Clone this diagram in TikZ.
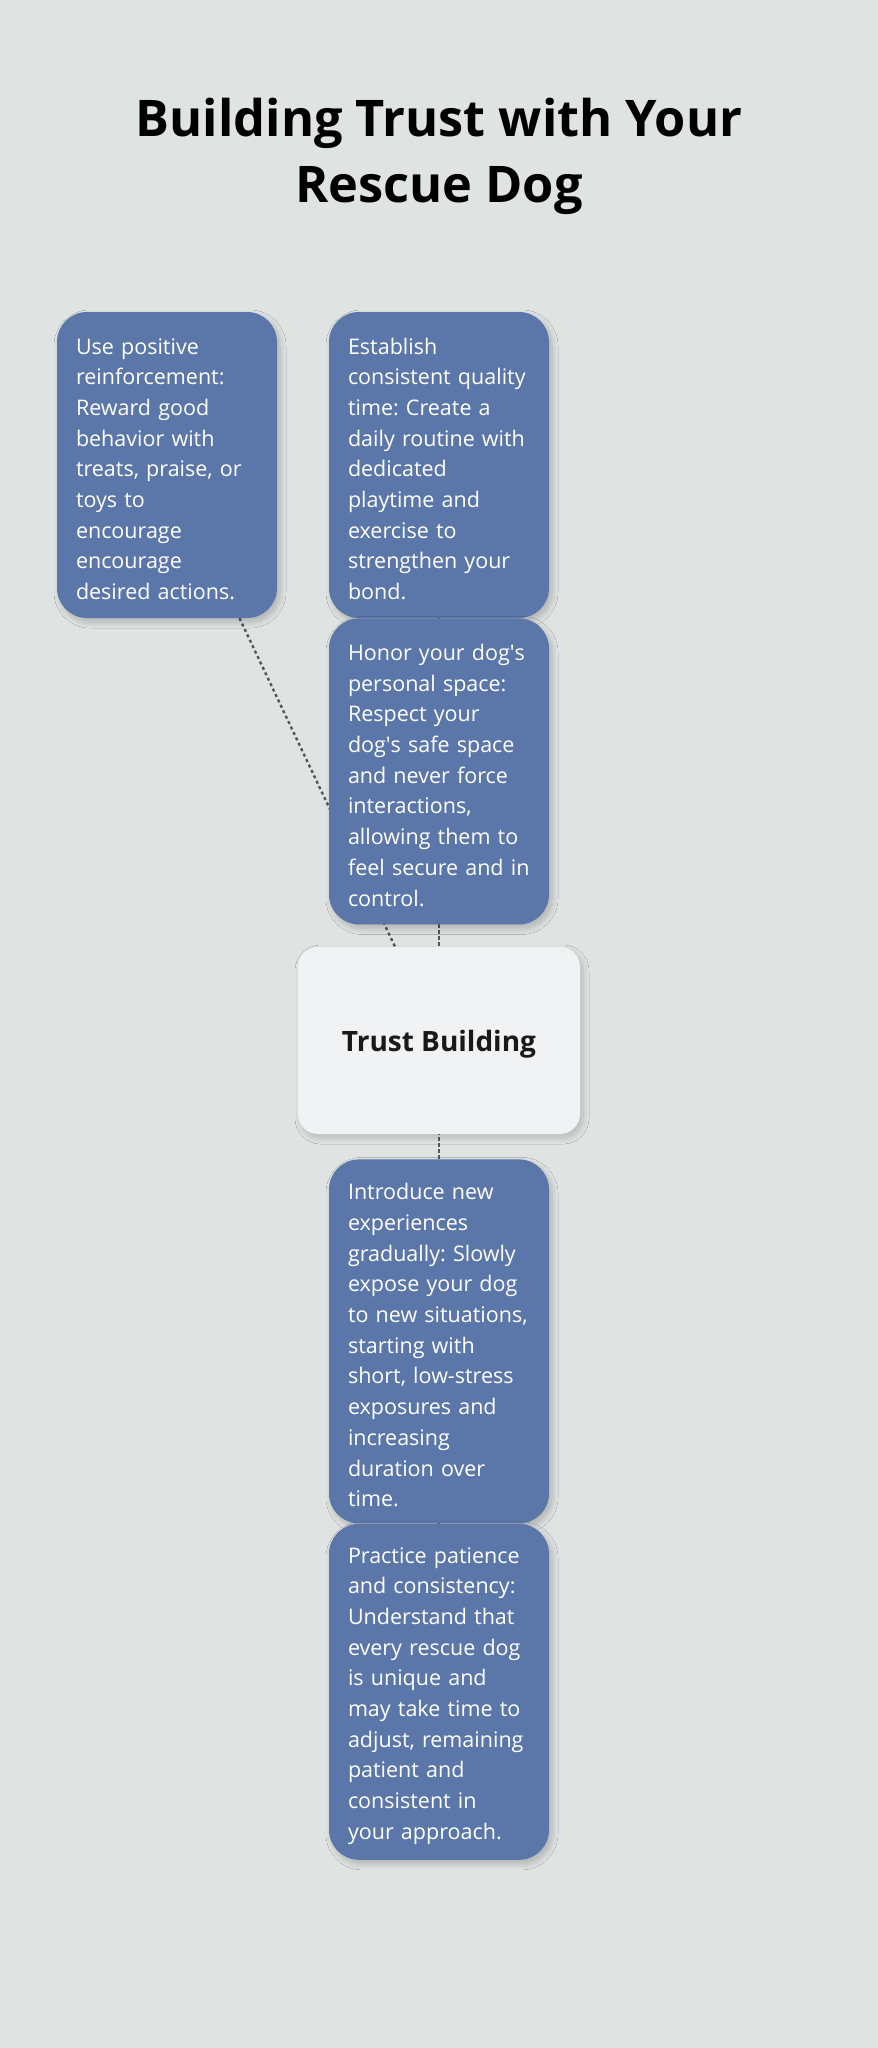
\documentclass[tikz,border=0pt]{standalone}
\usepackage{fontspec}
\setmainfont{Open Sans}
\usetikzlibrary{positioning}
\usetikzlibrary{backgrounds}
\usetikzlibrary{shadows.blur}

\definecolor{bgcol}{HTML}{DFE3E2}
\definecolor{tipcol}{HTML}{5B76A8}
\definecolor{hubcol}{HTML}{F1F2F4}
\definecolor{linkcol}{HTML}{50565C}

\begin{document}
\frenchspacing
\begin{tikzpicture}[x=1pt,y=-1pt]

\tikzset{
    tip/.style = {
    fill=tipcol, text=white, rounded corners=30pt,
    text width=182pt, inner xsep=19pt, inner ysep=0pt, align=left,
    font=\fontsize{21.5}{30.7}\selectfont,
    execute at begin node={\rule{0pt}{24pt}},
    blur shadow={shadow xshift=3pt, shadow yshift=-4pt, shadow blur radius=6pt, shadow blur steps=12, shadow opacity=22}
    },
    hub/.style = {
    fill=hubcol, text=black!90, rounded corners=20pt,
    minimum width=282pt, minimum height=187pt,
    text height=24pt, text depth=2pt,
    font=\fontsize{28}{34}\selectfont\bfseries,
    blur shadow={shadow xshift=3pt, shadow yshift=-4pt, shadow blur radius=6pt, shadow blur steps=12, shadow opacity=18}
    },
    link/.style = {linkcol, line width=2.4pt, dash pattern=on 3pt off 3pt}
}

\useasboundingbox (0,0) rectangle (878,2048);

\node (title) [align=center, font=\fontsize{50.5}{66}\selectfont\bfseries] at (439,156)
    {Building Trust with Your\\Rescue Dog};

\node (tip-reward) [tip, minimum height=306pt] at (167,465)
    {Use positive\\reinforcement:\\Reward good\\behavior with\\treats, praise, or\\toys to\\encourage\\encourage\\desired actions.};
\node (tip-quality) [tip, minimum height=306pt] at (439,465)
    {Establish\\consistent quality\\time: Create a\\daily routine with\\dedicated\\playtime and\\exercise to\\strengthen your\\bond.};
\node (tip-space) [tip, minimum height=306pt, below=0pt of tip-quality]
    {Honor your dog\textquotesingle s\\personal space:\\Respect your\\dog\textquotesingle s safe space\\and never force\\interactions,\\allowing them to\\feel secure and in\\control.};

\node (hub) [hub] at (439,1040.5) {Trust Building};

\node (tip-expose) [tip, minimum height=364pt, below=25pt of hub]
    {Introduce new\\experiences\\gradually: Slowly\\expose your dog\\to new situations,\\starting with\\short, low-stress\\exposures and\\increasing\\duration over\\time.};
\node (tip-patience) [tip, minimum height=336pt, below=0pt of tip-expose]
    {Practice patience\\and consistency:\\Understand that\\every rescue dog\\is unique and\\may take time to\\adjust, remaining\\patient and\\consistent in\\your approach.};

\begin{scope}[on background layer]
\fill[bgcol] (0,0) rectangle (878,2048);
\foreach \t in {reward,quality,space,expose,patience}{
    \draw[link] (tip-\t) -- (hub);
}
\end{scope}

\end{tikzpicture}
\end{document}
